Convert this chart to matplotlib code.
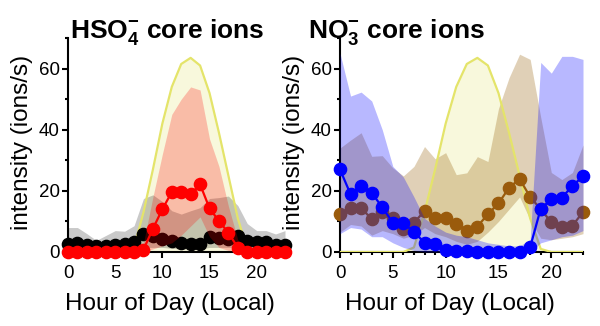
import matplotlib
matplotlib.use("Agg")
import matplotlib.pyplot as plt
import numpy as np

plt.rcParams['font.family'] = ['Liberation Sans', 'DejaVu Sans']
plt.rcParams['mathtext.fontset'] = 'custom'
plt.rcParams['mathtext.rm'] = 'Liberation Sans'
plt.rcParams['mathtext.bf'] = 'Liberation Sans:bold'

hours = list(range(24))

# solar (yellow) profile, same on both panels
sun = [0, 0, 0, 0, 0, 0, 0, 1.5, 13, 27, 42, 54, 61.5, 63.5, 61, 52, 39, 25, 11, 1, 0, 0, 0, 0]

# HSO4- panel
black_mean = [2.7, 3, 2.4, 2, 2, 2.2, 2.7, 3.4, 5.8, 5.3, 4.2, 3.6, 3, 2.5, 2.5, 5.0, 4.5, 4.2, 5.1, 3.6, 3.2, 3.4, 2.2, 2.2]
black_lo = [1, 1, 1, 0.8, 0.8, 1, 1, 1, 1.5, 1.5, 1.5, 1.2, 1, 1, 1, 1.5, 1.5, 1.5, 1.5, 1, 1, 1, 1, 1]
black_hi = [8, 8, 6, 3.8, 5.4, 7, 6.8, 8.6, 17.5, 18.7, 16.5, 13.5, 12.4, 13.5, 14.5, 17.5, 17.8, 18.3, 15.2, 9.3, 7, 7, 5.9, 7]
red_mean = [0, 0, 0, 0, 0, 0, 0, 0, 0.8, 7.6, 14, 19.6, 19.6, 18.9, 22.1, 14.3, 10.1, 6.3, 1.4, 0, 0, 0, 0, 0]
red_lo = [0, 0, 0, 0, 0, 0, 0, 0, 0, 1, 2, 3, 5.5, 8.5, 11.5, 5, 1.5, 0.5, 0, 0, 0, 0, 0, 0]
red_hi = [0, 0, 0, 0, 0, 0, 0, 0, 3, 18, 32, 45, 50, 54, 53, 37, 28, 15, 4, 0, 0, 0, 0, 0]

# NO3- panel
blue_mean = [27, 18.9, 21.6, 19.4, 14.6, 9.6, 9.6, 6.5, 3.1, 2.6, 0.8, 0.4, 0.2, 0, 0, 0, 0, 0, 1.6, 14.2, 17.2, 17.8, 21.6, 24.8]
blue_lo = [6, 8, 7.5, 5, 5, 3, 1.5, 0.5, 0, 0, 0, 0, 0, 0, 0, 0, 0, 0, 0, 3, 4, 5, 5.5, 7]
blue_hi = [65, 51, 52.3, 49.4, 40, 28, 24.5, 18, 11, 8.5, 6.5, 5.5, 5, 4, 3, 2.5, 2, 2, 4, 62, 58.5, 64, 64, 63]
brown_mean = [12.3, 14.5, 14.5, 10.7, 13, 11.2, 7.4, 9.6, 13.4, 11.2, 11.1, 9.2, 7.0, 8.3, 12.4, 15.9, 21, 23.9, 18, 14, 9.7, 8.3, 8.6, 13.1]
brown_lo = [6.5, 9, 8.5, 5.5, 7, 6, 4.5, 5.5, 8, 6, 5, 3.5, 2.5, 3.5, 6.5, 10, 14, 18, 10.5, 4.5, 4, 4.5, 5, 6]
brown_hi = [34, 36.6, 39, 31.3, 31.5, 27.5, 24.9, 28, 34.5, 30.5, 32.5, 25.3, 25.9, 31.2, 29.6, 46.9, 57, 64.7, 63, 44, 26, 23.7, 26, 35]

x_ticks = [0, 5, 10, 15, 20]
y_ticks = [0, 20, 40, 60]

W, H = 600, 326
fig = plt.figure(figsize=(6, 3.26), dpi=100)
axL = fig.add_axes([68 / W, 1 - 252 / H, 217 / W, 214 / H])
axR = fig.add_axes([340 / W, 1 - 252 / H, 243 / W, 214 / H])

sun_fill = '#f8f8dc'
sun_line = '#e4e46a'
ms = 8.8
lw = 1.6

for ax in (axL, axR):
    ax.fill_between(hours, 0, sun, color=sun_fill, lw=0, zorder=1)

# left panel
axL.fill_between(hours, black_lo, black_hi, color='black', alpha=0.21, lw=0, zorder=2)
axL.plot(hours, sun, color=sun_line, lw=1.6, zorder=3)
axL.plot(hours, black_mean, 'o-', color='black', ms=ms, lw=lw, zorder=4, clip_on=False)
axL.fill_between(hours, red_lo, red_hi, color='red', alpha=0.24, lw=0, zorder=5)
axL.plot(hours, red_mean, 'o-', color='red', ms=ms, lw=lw, zorder=6, clip_on=False)

# right panel
axR.fill_between(hours, brown_lo, brown_hi, color='#996611', alpha=0.3, lw=0, zorder=2)
axR.plot(hours, sun, color=sun_line, lw=1.6, zorder=3)
axR.plot(hours, brown_mean, 'o-', color='#9a5b0c', ms=ms, lw=lw, zorder=4, clip_on=False)
axR.fill_between(hours, blue_lo, blue_hi, color='blue', alpha=0.28, lw=0, zorder=5)
axR.plot(hours, blue_mean, 'o-', color='blue', ms=ms, lw=lw, zorder=6, clip_on=False)

for ax in (axL, axR):
    ax.set_xlim(0, 23)
    ax.set_ylim(0, 70)
    ax.spines['top'].set_visible(False)
    ax.spines['right'].set_visible(False)
    for s in ('left', 'bottom'):
        ax.spines[s].set_linewidth(1.5)
    ax.set_xticks(x_ticks)
    ax.set_yticks(y_ticks)
    ax.set_yticks([10, 30, 50, 70], minor=True)
    ax.tick_params(axis='both', which='major', direction='out', length=4.5, width=1.5,
                   labelsize=13.5, pad=1.5)
    ax.tick_params(axis='x', which='major', pad=5)
    ax.tick_params(axis='both', which='minor', direction='out', length=2.5, width=1.5)
    ax.set_xlabel('Hour of Day (Local)', fontsize=17.5)
    ax.set_ylabel('intensity (ions/s)', fontsize=17.5)
    ax.xaxis.label.set_va('baseline')

axR.set_xticks(hours, minor=True)

axL.xaxis.set_label_coords((169.5 - 68) / 217, -58 / 214)
axR.xaxis.set_label_coords((450 - 340) / 243, -58 / 214)
axL.yaxis.set_label_coords((33 - 68) / 217, 0.51)
axR.yaxis.set_label_coords((305 - 340) / 243, 0.51)

fig.text(70 / W, 1 - 38 / H, r'HSO$_\mathbf{4}^\mathbf{-}$ core ions', fontsize=19,
         fontweight='bold', ha='left', va='baseline')
fig.text(308 / W, 1 - 38 / H, r'NO$_\mathbf{3}^\mathbf{-}$ core ions', fontsize=19,
         fontweight='bold', ha='left', va='baseline')

fig.savefig('out.png', dpi=100)
